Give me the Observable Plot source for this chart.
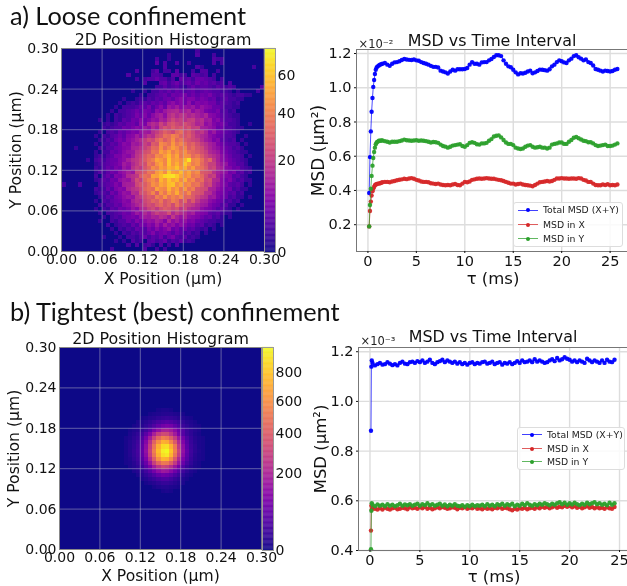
<!DOCTYPE html>
<html><head><meta charset="utf-8">
<script src="https://cdn.jsdelivr.net/npm/d3@7"></script>
<script src="https://cdn.jsdelivr.net/npm/@observablehq/plot@0.6"></script>
<style>
html,body{margin:0;padding:0;background:#fff;overflow:hidden}
#page{position:relative;width:627px;height:586px;overflow:hidden;font-family:"DejaVu Sans",sans-serif;filter:blur(0.4px)}
#page svg{position:absolute;background:transparent}
.head{position:absolute;left:10px;font-family:Lato,sans-serif;font-size:25.3px;line-height:28px;color:#111;white-space:nowrap}
.leg{position:absolute;box-sizing:border-box;background:rgba(255,255,255,.85);border:1px solid #ddd;border-radius:3px;font-size:9.3px;color:#222}
.leg div{position:absolute;white-space:nowrap;line-height:11px}
.leg i{position:absolute;height:1.2px;width:20px;opacity:.75}
.leg b{position:absolute;width:4px;height:4px;border-radius:50%}
</style></head><body><div id="page"></div>
<script>
// Histogram a) rows from top (y=0.30) to bottom; first number = first column, then counts.
const histARows = [
[33,2],
[26,1,0,0,0,0,0,0,3,0,0,0,2],
[23,2,0,0,1,0,0,0,0,0,0,0,0,0,0,3,2,2],
[23,4,0,3,0,0,3,0,0,2,0,0,0,0,0,3,0,2],
[25,3,0,0,0,0,0,0,0,3,1,0,0,0,0,0,0,0,0,0,0,0,0,2],
[18,3,0,0,0,2,4,0,2,2,0,4,0,0,0,2,0,3,3,0,0,2],
[16,3,0,0,0,0,0,3,3,2,0,0,4,4,2,2,0,4,3,2,3,0,2],
[18,2,0,2,3,3,5,3,3,1,3,0,5,3,4,2,5,5,4,3,2,0,2],
[20,3,0,0,0,4,5,2,4,6,3,4,5,3,6,4,5,3,4,2,3,0,3],
[23,2,2,4,2,3,4,2,1,3,5,3,4,4,3,2,4,3,2,3,2,0,0,0,0,0,0,3],
[17,1,0,0,1,0,2,2,4,3,5,3,5,4,3,4,5,3,4,5,4,3,3,2,2,1,0,1,0,0,0,0,2],
[19,1,0,2,2,3,4,5,3,6,5,6,7,4,6,4,6,5,7,4,3,4,3,2,1,2,2,1,1],
[8,0,0,0,0,0,0,0,1,0,0,1,2,1,3,2,4,3,5,6,4,7,9,6,8,8,5,7,6,4,5,2,3,4,2,2,1,1],
[8,0,0,0,0,0,0,1,0,1,2,1,3,4,3,5,4,6,4,8,10,7,9,6,10,5,8,7,8,6,6,3,4,3,2,1,2],
[8,0,0,0,0,0,1,0,2,2,2,3,5,4,7,3,6,9,5,12,10,13,9,11,10,12,8,11,9,8,5,5,4,2,2,1,1],
[8,0,0,0,0,1,0,2,2,3,4,6,4,7,6,4,10,8,12,15,16,17,13,14,16,10,13,11,7,6,5,7,3,3,1,2],
[8,0,0,0,1,0,2,1,2,3,4,7,5,8,5,9,12,14,10,17,20,16,19,18,15,17,14,12,15,9,8,6,4,3,2,1,1],
[8,0,1,0,1,0,2,1,4,3,6,5,9,6,8,11,10,15,13,19,24,20,22,18,21,22,16,18,12,13,7,9,5,3,3,2,1],
[8,0,0,1,2,1,2,4,3,5,6,4,10,7,14,17,15,23,18,25,28,24,22,26,23,20,15,17,10,12,8,6,7,4,2,2,1,0,0,1],
[8,0,0,2,1,2,3,3,6,5,7,9,8,12,10,16,13,22,27,24,30,26,28,24,27,21,22,14,13,11,9,5,6,3,3,2,1,1],
[8,0,1,0,2,3,2,5,4,6,8,7,11,13,12,18,21,26,31,28,24,32,36,26,29,23,18,20,15,9,12,7,6,4,3,2,1],
[8,1,0,2,1,3,4,6,4,8,9,13,10,15,19,17,25,28,36,34,42,38,31,27,30,24,19,16,14,10,8,6,5,3,3,2,0,0,1],
[8,0,1,1,3,2,5,7,5,9,11,14,17,21,26,24,32,38,30,35,45,33,38,30,27,24,22,17,13,11,7,9,4,3,2,3,0,1],
[8,1,0,2,2,4,3,6,9,8,13,12,15,22,19,30,28,44,40,36,48,38,43,36,29,32,26,21,18,14,12,8,6,4,3,3,2,0,1],
[3,1,0,0,0,0,0,2,1,3,3,5,6,8,9,14,15,18,22,26,34,33,46,35,42,50,44,36,42,30,35,28,25,19,15,12,10,7,5,4,2,3,1],
[8,1,0,2,2,5,4,6,9,11,12,18,20,26,28,38,36,50,44,52,40,47,39,46,36,33,30,26,22,16,14,12,8,6,4,3,2,1,1],
[8,1,2,1,3,4,7,7,10,9,13,19,22,29,34,32,44,42,49,57,44,52,38,46,44,34,38,30,24,20,17,14,10,7,5,3,3,2,0,1],
[6,1,0,2,3,2,4,5,5,8,10,14,18,20,24,30,36,40,52,48,42,60,47,50,44,56,70,42,44,36,27,32,20,14,10,8,6,4,3,2,1],
[8,1,2,3,4,5,6,8,13,11,16,20,25,26,38,34,46,52,42,60,47,55,44,62,50,40,44,34,28,22,22,15,12,11,6,5,3,3,1],
[8,2,1,3,5,4,7,6,12,10,18,22,20,28,33,44,40,50,46,56,52,60,48,55,42,50,38,36,30,22,24,16,14,9,8,5,6,3,2,1],
[8,1,3,2,4,6,5,9,11,14,12,24,26,30,38,36,48,54,44,62,50,48,58,46,52,40,44,30,28,26,18,14,12,10,6,7,3,4,1,2],
[8,2,0,3,5,3,8,7,10,16,18,20,30,36,34,52,50,58,66,68,70,62,52,46,50,38,40,34,26,20,22,13,10,8,7,3,4,2,1],
[8,1,2,4,3,6,5,10,12,11,17,26,22,34,40,44,38,56,48,60,52,57,44,54,40,44,33,36,24,26,16,15,9,6,8,4,2,3,1,1],
[0,2,0,0,0,2,0,0,0,0,2,3,4,5,8,6,13,14,15,24,28,30,36,46,42,52,48,58,60,46,52,42,45,36,38,30,22,24,15,12,9,7,4,3,4,2,0,1],
[8,2,1,2,5,3,7,9,8,15,18,20,24,32,36,34,50,44,42,56,44,50,38,48,36,40,28,26,24,15,14,10,8,5,6,2,3,1,1],
[8,1,2,3,2,6,4,8,11,10,17,16,26,28,34,42,30,46,38,50,42,54,40,36,44,30,28,26,18,17,12,8,7,5,3,4,1,2],
[8,0,1,2,4,3,6,7,10,12,11,18,20,26,30,28,40,36,47,36,42,38,44,33,34,30,24,20,18,12,13,8,6,5,2,3,1,1,0,1],
[8,1,0,3,2,4,5,6,9,8,14,17,16,24,27,33,30,38,28,32,40,36,26,34,22,29,20,15,14,10,8,6,5,2,3,1,2],
[8,0,2,1,3,3,5,4,8,9,12,15,18,22,26,24,30,34,28,32,25,36,28,24,22,20,16,13,12,8,6,5,3,4,1,1,0,1],
[8,1,0,2,1,4,3,6,5,7,11,9,15,17,22,25,20,26,30,28,24,27,19,24,17,15,14,10,8,7,5,3,4,2,1,0,1],
[8,0,1,0,2,2,3,4,6,5,8,12,10,16,13,18,22,19,20,26,16,21,17,16,12,14,9,8,7,4,3,4,2,1,1],
[8,0,0,1,0,2,3,2,5,6,7,6,10,13,12,15,14,18,16,12,20,14,11,15,10,9,8,6,4,5,2,3,1,0,1],
[8,0,1,0,0,2,1,3,3,6,4,8,6,9,11,10,14,12,8,16,10,13,9,11,7,8,5,4,3,2,2,1,1],
[8,0,0,0,2,0,1,2,3,2,5,3,7,6,9,7,12,8,13,9,11,7,10,8,5,6,3,4,1,2,1,0,1],
[8,0,0,0,0,1,0,2,1,3,2,5,4,3,7,5,9,6,8,11,5,7,4,6,3,4,2,1,2,0,1],
[8,0,0,0,0,0,1,0,2,1,3,2,4,3,5,8,4,6,7,5,3,6,4,2,3,1,2,0,1],
[8,0,0,1,0,0,0,1,0,2,2,1,3,5,2,4,3,6,2,5,7,3,2,4,1,2,1],
[8,0,0,0,0,0,1,0,1,0,3,1,2,0,3,4,2,3,5,1,3,2,4,1,2,1],
[16,2,0,3,0,2,3,1,0,3,0,2,0,3],
[12,2,0,0,0,0,0,0,0,3,0,0,2,0,2]
];
// Histogram b) same layout; rows not listed are empty.
const histBFirstRow = 15;
const histBRows = [
[24,1,2,2,1],
[22,1,2,3,4,5,4,3,2,1],
[20,1,2,4,6,9,13,15,13,9,6,4,2,1],
[19,2,3,6,10,18,27,36,40,36,26,17,10,5,3,1],
[18,1,3,5,10,19,35,58,80,92,82,56,34,18,9,4,2,1],
[17,1,3,5,11,22,45,95,140,185,195,170,125,75,40,18,8,4,2],
[17,2,5,10,22,48,100,185,280,330,320,250,170,95,42,18,8,3,1],
[16,1,3,7,15,35,85,170,300,430,530,500,400,280,160,80,30,12,5,2,1],
[16,1,4,9,20,48,110,240,420,590,720,700,560,390,220,105,42,15,6,2,1],
[16,1,4,10,24,55,130,280,490,720,880,900,730,510,270,130,50,18,7,2,1],
[16,1,5,12,26,60,140,300,530,770,950,1000,800,540,310,140,58,20,7,3,1],
[16,1,4,11,24,55,125,280,490,720,900,930,740,490,280,125,50,18,6,2,1],
[16,1,3,9,20,42,100,220,400,600,740,720,580,380,210,95,40,14,5,2,1],
[16,1,2,6,15,30,70,150,290,420,510,500,400,270,150,68,26,10,3,1],
[17,2,4,9,18,45,90,170,250,310,290,230,150,85,38,14,6,2,1],
[18,2,5,9,22,45,85,130,165,155,120,75,42,20,8,3,1],
[19,2,5,10,20,36,58,75,70,52,32,17,8,3,1],
[20,2,4,9,15,24,32,30,22,13,7,3,1],
[21,1,3,5,8,12,13,9,6,3,2],
[23,1,3,4,4,3,2,1],
[25,1,2,1]
];
const tauA = [0.13,0.21,0.30,0.38,0.47,0.55,0.64,0.72,0.81,0.90,1.00,1.13,1.25,1.38,
1.5,1.75,2,2.25,2.5,2.75,3,3.25,3.5,3.75,4,4.25,4.5,4.75,5,5.25,5.5,5.75,6,6.25,6.5,6.75,7,7.25,7.5,7.75,8,8.25,8.5,8.75,9,9.25,9.5,9.75,10,10.25,10.5,10.75,11,11.25,11.5,11.75,12,12.25,12.5,12.75,13,13.25,13.5,13.75,14,14.25,14.5,14.75,15,15.25,15.5,15.75,16,16.25,16.5,16.75,17,17.25,17.5,17.75,18,18.25,18.5,18.75,19,19.25,19.5,19.75,20,20.25,20.5,20.75,21,21.25,21.5,21.75,22,22.25,22.5,22.75,23,23.25,23.5,23.75,24,24.25,24.5,24.75,25,25.25,25.5,25.75];
const totalA = [.385,.595,.745,.86,.94,1.005,1.045,1.08,1.105,1.118,1.125,1.13,1.135,1.138,
1.14,1.145,1.135,1.128,1.14,1.148,1.15,1.155,1.162,1.168,1.165,1.163,1.162,1.165,1.16,1.158,1.15,1.145,1.14,1.135,1.128,1.122,1.122,1.118,1.1,1.095,1.09,1.083,1.095,1.105,1.1,1.108,1.108,1.108,1.11,1.115,1.135,1.15,1.14,1.14,1.135,1.148,1.15,1.15,1.16,1.168,1.18,1.19,1.19,1.185,1.16,1.14,1.125,1.12,1.105,1.09,1.078,1.085,1.083,1.088,1.095,1.1,1.085,1.09,1.098,1.106,1.105,1.103,1.1,1.108,1.125,1.135,1.15,1.16,1.155,1.148,1.145,1.16,1.17,1.185,1.19,1.178,1.17,1.16,1.165,1.15,1.145,1.13,1.11,1.105,1.1,1.095,1.1,1.098,1.095,1.098,1.105,1.11];
const xA = [.19,.28,.335,.37,.395,.41,.42,.43,.435,.437,.44,.44,.442,.445,
.448,.45,.45,.448,.452,.455,.46,.463,.465,.468,.466,.47,.472,.468,.462,.458,.452,.45,.45,.448,.442,.44,.438,.44,.435,.432,.43,.432,.43,.435,.438,.432,.43,.44,.45,.448,.452,.462,.465,.468,.47,.468,.47,.472,.47,.468,.468,.465,.462,.46,.455,.45,.445,.44,.44,.435,.438,.44,.435,.432,.43,.428,.425,.432,.44,.448,.45,.452,.455,.452,.455,.462,.47,.47,.472,.47,.47,.468,.47,.47,.468,.472,.47,.462,.458,.45,.45,.44,.432,.43,.43,.435,.432,.436,.43,.432,.43,.435];
const yA = [.19,.315,.41,.485,.545,.59,.625,.65,.67,.68,.685,.69,.69,.692,
.692,.688,.685,.68,.685,.685,.685,.688,.692,.697,.693,.692,.69,.692,.693,.69,.692,.69,.688,.685,.68,.683,.682,.678,.668,.66,.656,.65,.655,.662,.665,.668,.67,.66,.655,.665,.678,.682,.678,.67,.668,.675,.675,.678,.69,.7,.715,.72,.722,.71,.695,.68,.672,.672,.665,.65,.645,.642,.645,.655,.662,.665,.655,.65,.652,.655,.65,.65,.645,.65,.668,.672,.675,.68,.68,.672,.672,.685,.695,.708,.712,.705,.698,.69,.688,.682,.682,.675,.665,.66,.662,.665,.668,.66,.66,.662,.668,.675];
const tauB = [0.10,0.14,0.18,0.25,
0.5,0.75,1,1.25,1.5,1.75,2,2.25,2.5,2.75,3,3.25,3.5,3.75,4,4.25,4.5,4.75,5,5.25,5.5,5.75,6,6.25,6.5,6.75,7,7.25,7.5,7.75,8,8.25,8.5,8.75,9,9.25,9.5,9.75,10,10.25,10.5,10.75,11,11.25,11.5,11.75,12,12.25,12.5,12.75,13,13.25,13.5,13.75,14,14.25,14.5,14.75,15,15.25,15.5,15.75,16,16.25,16.5,16.75,17,17.25,17.5,17.75,18,18.25,18.5,18.75,19,19.25,19.5,19.75,20,20.25,20.5,20.75,21,21.25,21.5,21.75,22,22.25,22.5,22.75,23,23.25,23.5,23.75,24,24.25,24.5];
const totalB = [.882,1.14,1.165,1.155,
1.145,1.15,1.155,1.148,1.15,1.158,1.152,1.146,1.15,1.145,1.155,1.16,1.152,1.15,1.158,1.16,1.155,1.162,1.158,1.165,1.155,1.16,1.168,1.155,1.15,1.158,1.162,1.168,1.158,1.165,1.16,1.155,1.16,1.152,1.158,1.15,1.155,1.148,1.155,1.158,1.15,1.155,1.152,1.158,1.16,1.152,1.155,1.16,1.15,1.155,1.158,1.148,1.155,1.152,1.158,1.15,1.155,1.162,1.155,1.165,1.158,1.16,1.165,1.158,1.17,1.16,1.165,1.16,1.155,1.158,1.165,1.17,1.162,1.175,1.165,1.17,1.178,1.172,1.168,1.16,1.165,1.158,1.165,1.16,1.155,1.172,1.165,1.158,1.165,1.16,1.155,1.165,1.155,1.168,1.16,1.158,1.168];
const xB = [.48,.58,.565,.57,
.568,.565,.57,.565,.572,.568,.565,.57,.572,.566,.568,.572,.57,.566,.574,.57,.572,.568,.574,.57,.575,.568,.572,.566,.57,.574,.57,.575,.572,.568,.57,.574,.572,.566,.572,.57,.574,.568,.572,.57,.575,.568,.57,.566,.572,.568,.57,.566,.572,.57,.574,.568,.572,.57,.566,.562,.568,.565,.57,.568,.572,.566,.57,.572,.568,.574,.57,.576,.572,.575,.57,.574,.578,.572,.576,.574,.58,.576,.58,.574,.578,.572,.576,.57,.574,.578,.572,.575,.57,.574,.57,.572,.568,.574,.57,.568,.575];
const yB = [.405,.56,.59,.585,
.578,.585,.58,.584,.578,.586,.58,.584,.578,.582,.588,.58,.585,.582,.586,.58,.584,.588,.58,.586,.582,.59,.582,.586,.58,.584,.588,.58,.585,.578,.584,.58,.586,.58,.578,.582,.576,.582,.578,.584,.578,.582,.58,.584,.578,.586,.58,.584,.578,.586,.582,.588,.58,.586,.582,.588,.578,.584,.58,.588,.582,.59,.584,.58,.586,.582,.588,.584,.59,.586,.582,.588,.584,.59,.594,.586,.592,.584,.59,.585,.592,.586,.582,.588,.584,.592,.586,.59,.594,.586,.59,.584,.588,.582,.592,.584,.59];
const histTicks = [0,0.06,0.12,0.18,0.24,0.30];
const cbarTicksA = [0,20,40,60];
const cbarTicksB = [0,200,400,600,800];
const tauTicks = [0,5,10,15,20,25];
const msdTicksA = [0.2,0.4,0.6,0.8,1.0,1.2];
const msdTicksB = [0.4,0.6,0.8,1.0,1.2];
const blue="#0000ff", red="#d62728", green="#2ca02c";
const page=document.getElementById("page");
function put(svg,left,top){svg.style.left=left+"px";svg.style.top=top+"px";page.appendChild(svg);}
function grid(rows,first=0){
  const out=new Array(2500).fill(0);
  rows.forEach((r,i)=>{for(let k=1;k<r.length;k++){const c=r[0]+k-1;if(c<50)out[(i+first)*50+c]=r[k];}});
  return out;
}
function heatmap(values,max,left,top,ml,mt,size,xdy){
  const svg=Plot.plot({
    width:ml+size+24,height:mt+size+42,marginLeft:ml,marginRight:24,marginTop:mt,marginBottom:42,
    style:{background:"transparent",fontFamily:"DejaVu Sans",overflow:"visible"},
    x:{domain:[0,0.3],axis:null},y:{domain:[0,0.3],axis:null},
    color:{type:"pow",exponent:0.6,scheme:"plasma",domain:[0,max]},
    marks:[
      Plot.raster(values,{width:50,height:50,x1:0,x2:0.3,y1:0.3,y2:0,fill:d=>d,imageRendering:"pixelated"}),
      Plot.gridX(histTicks,{stroke:"#b8b8c8",strokeOpacity:.5,strokeWidth:1}),
      Plot.gridY(histTicks,{stroke:"#b8b8c8",strokeOpacity:.5,strokeWidth:1}),
      Plot.frame({stroke:"#888",strokeWidth:1}),
      Plot.axisX(histTicks,{anchor:"bottom",tickSize:0,tickPadding:3,fontSize:14,label:null,tickFormat:d3.format(".2f"),color:"#111"}),
      Plot.axisY(histTicks,{anchor:"left",tickSize:0,tickPadding:3,fontSize:14,label:null,tickFormat:d3.format(".2f"),color:"#111"}),
      Plot.text(["2D Position Histogram"],{frameAnchor:"top",dy:-15,fontSize:15.9,fill:"#111"}),
      Plot.text(["X Position (µm)"],{frameAnchor:"bottom",dy:xdy,fontSize:15.6,fill:"#111"}),
      Plot.text(["Y Position (µm)"],{frameAnchor:"left",textAnchor:"middle",dx:-46,rotate:-90,fontSize:15.6,fill:"#111"})
    ]});
  put(svg,left,top);
}
function colorbar(max,ticks,left,top,size){
  const lv=d3.range(0,240).map(i=>[max*Math.pow(i/240,1/0.6),max*Math.pow((i+1)/240,1/0.6)]);
  const svg=Plot.plot({
    width:50,height:size+2,marginLeft:1,marginRight:38,marginTop:1,marginBottom:1,
    style:{background:"transparent",fontFamily:"DejaVu Sans",overflow:"visible"},
    x:{domain:[0,1],axis:null},y:{type:"pow",exponent:0.6,domain:[0,max],axis:null},
    color:{type:"pow",exponent:0.6,scheme:"plasma",domain:[0,max]},
    marks:[
      Plot.rect(lv,{x1:0,x2:1,y1:d=>d[0],y2:d=>d[1],fill:d=>d[0],stroke:d=>d[0],strokeWidth:.3}),
      Plot.frame({stroke:"#999",strokeWidth:1}),
      Plot.axisY(ticks,{anchor:"right",tickSize:0,tickPadding:2,fontSize:14,label:null,color:"#111"})
    ]});
  put(svg,left,top);
}
function msd(o){
  const ser=[[o.total,blue],[o.xv,red],[o.yv,green]];
  const marks=[
    Plot.gridX(tauTicks,{stroke:"#ddd",strokeOpacity:1,strokeWidth:1.4}),
    Plot.gridY(o.ticks,{stroke:"#ddd",strokeOpacity:1,strokeWidth:1.4})
  ];
  for(const [v,c] of ser){
    marks.push(Plot.line(v,{x:o.tau,y:v,stroke:c,strokeWidth:1,strokeOpacity:.7}));
    marks.push(Plot.dot(v,{x:o.tau,y:v,fill:c,r:2.2,stroke:"none",fillOpacity:.95}));
  }
  marks.push(
    Plot.frame({stroke:"#777",strokeWidth:1}),
    Plot.axisX(tauTicks,{anchor:"bottom",tickSize:2,tickPadding:2,fontSize:14.5,label:null,color:"#111",tickFormat:d3.format("d")}),
    Plot.axisY(o.ticks,{anchor:"left",tickSize:2,tickPadding:3,fontSize:14.5,label:null,color:"#111",tickFormat:d3.format(".1f")}),
    Plot.text(["MSD vs Time Interval"],{frameAnchor:"top",dx:-1,dy:o.titleDy,fontSize:15.9,fill:"#111"}),
    Plot.text([o.exp],{frameAnchor:"top-left",dx:2,dy:o.expDy,fontSize:11.5,fill:"#222"}),
    Plot.text(["τ (ms)"],{frameAnchor:"bottom",dx:0,dy:o.xdy,fontSize:16.5,fill:"#111"}),
    Plot.text(["MSD (μm²)"],{frameAnchor:"left",textAnchor:"middle",dx:-38,rotate:-90,fontSize:o.ylabSize,fill:"#111"})
  );
  const svg=Plot.plot({
    width:o.w,height:o.h,marginLeft:o.ml,marginRight:0,marginTop:o.mt,marginBottom:o.mb,
    style:{background:"transparent",fontFamily:"DejaVu Sans",overflow:"visible"},
    x:{domain:o.xdom,axis:null},y:{domain:o.ydom,axis:null},marks});
  put(svg,o.left,o.top);
}
function legend(left,top,w,h,tx,ys){
  const el=document.createElement("div");el.className="leg";
  el.style.cssText=`left:${left}px;top:${top}px;width:${w}px;height:${h}px`;
  const names=["Total MSD (X+Y)","MSD in X","MSD in Y"],cols=[blue,red,green];
  names.forEach((n,i)=>{
    el.innerHTML+=`<i style="left:4px;top:${ys[i]}px;background:${cols[i]}"></i><b style="left:12px;top:${ys[i]-1.5}px;background:${cols[i]}"></b><div style="left:${tx}px;top:${ys[i]-5.5}px">${n}</div>`;
  });
  page.appendChild(el);
}
function head(t,top){const d=document.createElement("div");d.className="head";d.textContent=t;d.style.top=top+"px";page.appendChild(d);}

head("a) Loose confinement",1);
head("b) Tightest (best) confinement",297);
heatmap(grid(histARows),76,0,0,61,48,203,32);
colorbar(76,cbarTicksA,263,47,204);
heatmap(grid(histBRows,histBFirstRow),1000,0,0,59,347,202,31);
colorbar(1000,cbarTicksB,261,346,203);
msd({tau:tauA,total:totalA,xv:xA,yv:yA,ticks:msdTicksA,exp:"×10⁻²",left:300,top:0,w:329,h:290,ml:56,mt:49,mb:39,
  xdom:[-1.18,27],ydom:[0.0434,1.2235],titleDy:-15,expDy:-10,xdy:32,ylabSize:17});
msd({tau:tauB,total:totalB,xv:xB,yv:yB,ticks:msdTicksB,exp:"×10⁻³",left:300,top:300,w:329,h:286,ml:58,mt:47,mb:36,
  xdom:[-1.15,26],ydom:[0.4,1.217],titleDy:-17,expDy:-11,xdy:31,ylabSize:16.5});
legend(513,202,110,45,29,[6.5,21,35]);
legend(517,427,108,43,29,[6,20,33]);
</script></body></html>
